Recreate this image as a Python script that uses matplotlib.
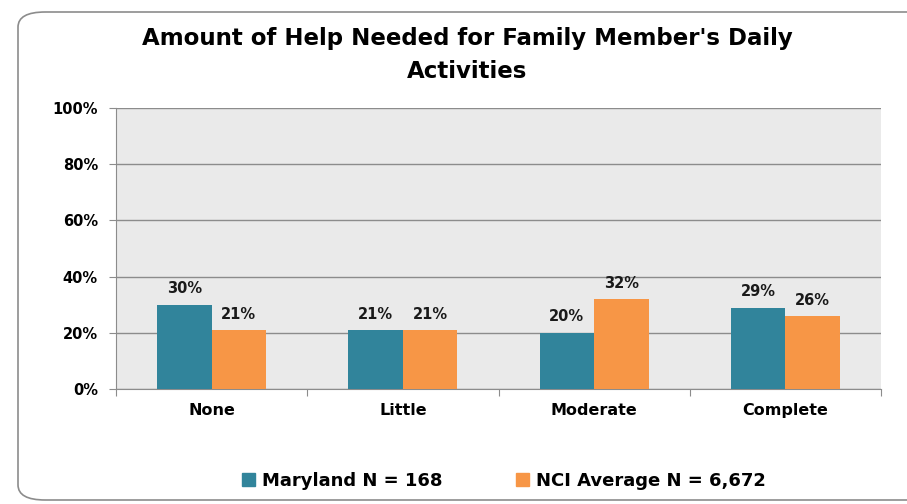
import matplotlib
matplotlib.use("Agg")
import matplotlib.pyplot as plt
from matplotlib.patches import FancyBboxPatch, Patch
import numpy as np

categories = ["None", "Little", "Moderate", "Complete"]
maryland = [30, 21, 20, 29]
nci = [21, 21, 32, 26]
series_names = ["Maryland N = 168", "NCI Average N = 6,672"]
yticks = [0, 20, 40, 60, 80, 100]
title = "Amount of Help Needed for Family Member's Daily\nActivities"

BLUE = "#31849B"
ORANGE = "#F79646"
FONT = "DejaVu Sans"

W, H = 907, 504
fig = plt.figure(figsize=(W/100, H/100), dpi=100)
fig.patch.set_facecolor("white")

# rounded border
box = FancyBboxPatch((18/W, 4/H), 1.2, (492-4)/H, boxstyle="round,pad=0,rounding_size=0.03",
                     transform=fig.transFigure, fill=False, edgecolor="#8c8c8c", lw=1.2)
fig.patches.append(box)

ax = fig.add_axes([116/W, 1-389/H, (881-116)/W, (389-108)/H])
ax.set_facecolor("#EAEAEA")
x = np.arange(len(categories))
w = 0.285
b1 = ax.bar(x - w/2, maryland, w, color=BLUE, zorder=3)
b2 = ax.bar(x + w/2, nci, w, color=ORANGE, zorder=3)
for bars, vals in ((b1, maryland), (b2, nci)):
    for r, v in zip(bars, vals):
        ax.text(r.get_x() + r.get_width()/2, v + 3, f"{v}%", ha="center", va="bottom",
                fontsize=10.5, fontweight="bold", family=FONT, color="#1a1a1a")

ax.set_xlim(-0.5, len(categories) - 0.5)
ax.set_ylim(0, 100)
ax.set_yticks(yticks)
ax.set_yticklabels([f"{t}%" for t in yticks], fontsize=10.5, fontweight="bold", family=FONT)
ax.yaxis.grid(True, color="#8c8c8c", lw=1, zorder=1)
ax.set_axisbelow(True)
ax.tick_params(axis="y", length=5, color="#8c8c8c", pad=8)

ax.set_xticks(np.arange(-0.5, len(categories), 1))
ax.set_xticklabels([])
ax.set_xticks(x, minor=True)
ax.set_xticklabels(categories, minor=True, fontsize=11.5, fontweight="bold", family=FONT)
ax.tick_params(axis="x", which="major", length=5, color="#8c8c8c")
ax.tick_params(axis="x", which="minor", length=0, pad=10)

for s in ["top", "right"]:
    ax.spines[s].set_visible(False)
ax.spines["left"].set_color("#8c8c8c")
ax.spines["bottom"].set_color("#8c8c8c")

fig.text(467/W, 1-55/H, title, ha="center", va="center", fontsize=16.5, fontweight="bold",
         family=FONT, linespacing=1.6)

handles = [Patch(color=BLUE), Patch(color=ORANGE)]
leg = fig.legend(handles, series_names, loc="center", bbox_to_anchor=(504/W, 1-481/H), ncol=2,
                 frameon=False, handlelength=0.7, handleheight=0.7, handletextpad=0.4,
                 columnspacing=4.1, prop={"family": FONT, "weight": "bold", "size": 13})

fig.savefig("out.png", dpi=100)
